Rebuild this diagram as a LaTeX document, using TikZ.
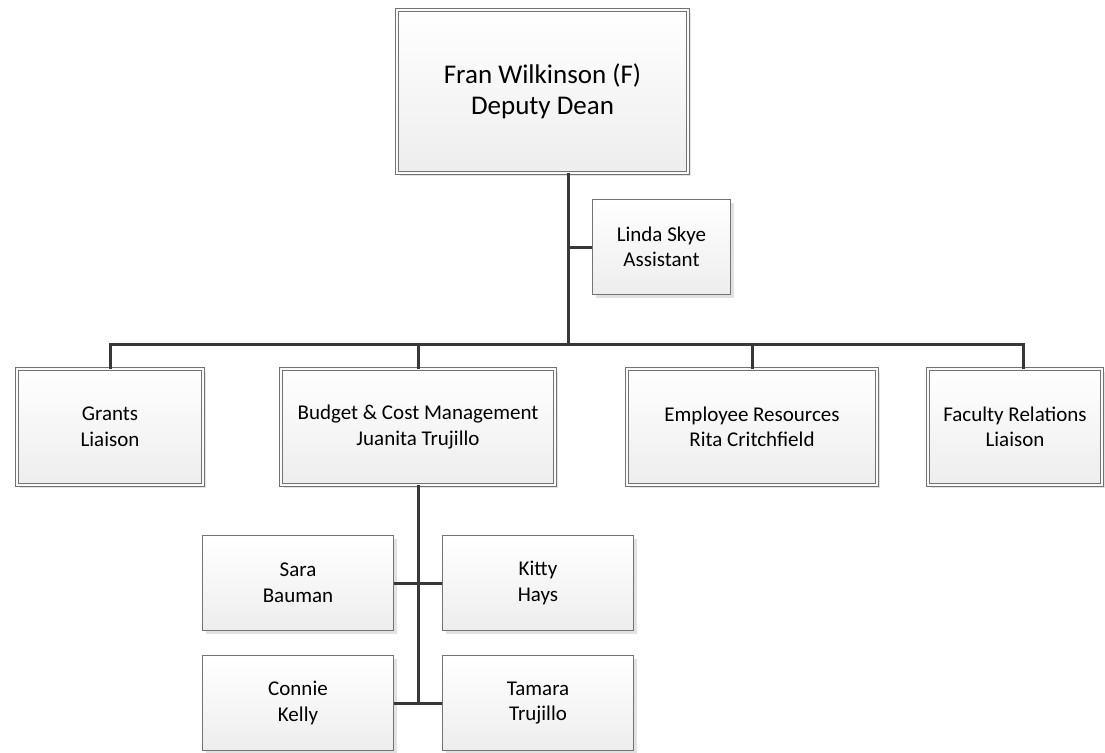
\documentclass[tikz,border=0pt]{standalone}
\usepackage{fontspec}
\setmainfont{Carlito}
\usetikzlibrary{shadows}

\begin{document}
\begin{tikzpicture}[x=1pt, y=-1pt,
    box/.style={rectangle, align=center, inner sep=0pt, top color=white, bottom color=gray!14, drop shadow={shadow xshift=3pt, shadow yshift=-3pt, fill=gray!45}, font=\fontsize{21}{25.5}\selectfont},
    main/.style={box, draw=gray!90!black, line width=0.7pt, double=white!96!gray, double distance=2.4pt},
    info/.style={box, draw=gray!90!black, line width=0.8pt},
    n/.style={draw=black!78, line width=3pt}]
    \useasboundingbox (0,0) rectangle (1105,752);
    % nodes
    \node[main, minimum width=291, minimum height=163, font=\fontsize{27}{31.5}\selectfont] (fran) at (542.5,91.5) {Fran Wilkinson (F)\\Deputy Dean};
    \node[info, minimum width=138, minimum height=95] (linda) at (661.5,247) {Linda Skye\\Assistant};
    \node[main, minimum width=186, minimum height=116] (grants) at (110,427) {Grants\\Liaison};
    \node[main, minimum width=274, minimum height=116] (budget) at (418,427) {Budget \& Cost Management\\Juanita Trujillo};
    \node[main, minimum width=250, minimum height=116] (employee) at (752,427) {Employee Resources\\Rita Critchfield};
    \node[main, minimum width=174, minimum height=116] (faculty) at (1015,427) {Faculty Relations\\Liaison};
    \node[info, minimum width=191, minimum height=95] (sara) at (298,583) {Sara\\Bauman};
    \node[info, minimum width=191, minimum height=95] (kitty) at (538,583) {Kitty\\Hays};
    \node[info, minimum width=191, minimum height=95] (connie) at (298,703) {Connie\\Kelly};
    \node[info, minimum width=191, minimum height=95] (tamara) at (538,703) {Tamara\\Trujillo};
    \coordinate (bar) at (568,344);
    \coordinate (facdrop) at (1023,344);
    \coordinate (subend) at (418,703);
    % edges
    \draw[n] (fran.south -| bar) -- (bar);
    \draw[n] (linda.west -| bar) -- (linda.west);
    \draw[n, line cap=rect] (grants.north |- bar) -- (facdrop);
    \draw[n] (grants.north |- bar) -- (grants.north);
    \draw[n] (budget.north |- bar) -- (budget.north);
    \draw[n] (employee.north |- bar) -- (employee.north);
    \draw[n] (facdrop) -- (faculty.north -| facdrop);
    \draw[n] (budget.south) -- (subend);
    \draw[n] (sara.east) -- (kitty.west);
    \draw[n] (connie.east) -- (tamara.west);
\end{tikzpicture}
\end{document}
